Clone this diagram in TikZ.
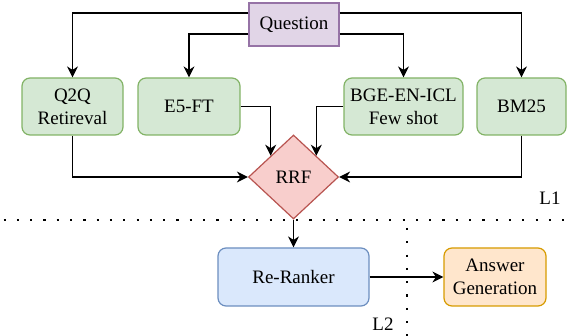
\documentclass[tikz,border=0pt]{standalone}
\usepackage{fontspec}
\setmainfont{Liberation Serif}
\usetikzlibrary{shapes.geometric,arrows.meta,calc}
\definecolor{gfill}{HTML}{D5E8D4}\definecolor{gline}{HTML}{82B366}
\definecolor{pfill}{HTML}{E1D5E7}\definecolor{pline}{HTML}{9673A6}
\definecolor{rfill}{HTML}{F8CECC}\definecolor{rline}{HTML}{B85450}
\definecolor{bfill}{HTML}{DAE8FC}\definecolor{bline}{HTML}{6C8EBF}
\definecolor{ofill}{HTML}{FFE6CC}\definecolor{oline}{HTML}{D79B00}
\begin{document}
\begin{tikzpicture}[x=1pt,y=-1pt,
  every node/.style={font=\fontsize{19}{23}\selectfont, align=center, inner sep=0pt, line width=1.2pt},
  box/.style={draw, rounded corners=8pt},
  gbox/.style={box, fill=gfill, draw=gline, minimum height=57pt},
  conn/.style={line width=1.4pt, -{Stealth[length=11pt,width=11pt,inset=3.5pt]}},
  sep/.style={line width=2.2pt, dash pattern=on 2.2pt off 11.1pt}]
\useasboundingbox (0,0) rectangle (568,336);
\node[draw=pline, fill=pfill, minimum width=90pt, minimum height=43pt] (q) at (294,24.5) {Question};
\node[gbox, minimum width=101pt] (q2q) at (72.5,106.5) {Q2Q\\Retireval};
\node[gbox, minimum width=102pt] (e5) at (189,106.5) {E5-FT};
\node[gbox, minimum width=119pt] (bge) at (403.5,106.5) {BGE-EN-ICL\\Few shot};
\node[gbox, minimum width=89pt] (bm) at (521.5,106.5) {BM25};
\node[diamond, draw=rline, fill=rfill, minimum width=90pt, minimum height=84pt] (rrf) at (293.5,177) {RRF};
\node[box, draw=bline, fill=bfill, minimum width=151pt, minimum height=58pt] (rr) at (293.5,277) {Re-Ranker};
\node[box, draw=oline, fill=ofill, minimum width=102pt, minimum height=58pt] (ans) at (495,277) {Answer\\Generation};
\node (l1) at (550,198) {L1};
\node (l2) at (383,324) {L2};
\coordinate (qt) at ([yshift=11.5pt]q.west);
\coordinate (qb) at ([yshift=-9.5pt]q.west);
\coordinate (qtr) at ([yshift=11.5pt]q.east);
\coordinate (qbr) at ([yshift=-9.5pt]q.east);
\draw[conn] (qt) -| (q2q.north);
\draw[conn] (qb) -| (e5.north);
\draw[conn] (qbr) -| (bge.north);
\draw[conn] (qtr) -| (bm.north);
\draw[conn] (q2q.south) |- (rrf.west);
\draw[conn] (bm.south) |- (rrf.east);
\draw[conn] (e5.east) -| (rrf.north west);
\draw[conn] (bge.west) -| (rrf.north east);
\draw[conn] (rrf.south) -- (rr.north);
\draw[conn] (rr.east) -- (ans.west);
\coordinate (h1) at (3.5,220);
\coordinate (h2) at (568,220);
\coordinate (v1) at (407,228);
\coordinate (v2) at (407,336);
\draw[sep] (h1) -- (h2);
\draw[sep] (v1) -- (v2);
\end{tikzpicture}
\end{document}
